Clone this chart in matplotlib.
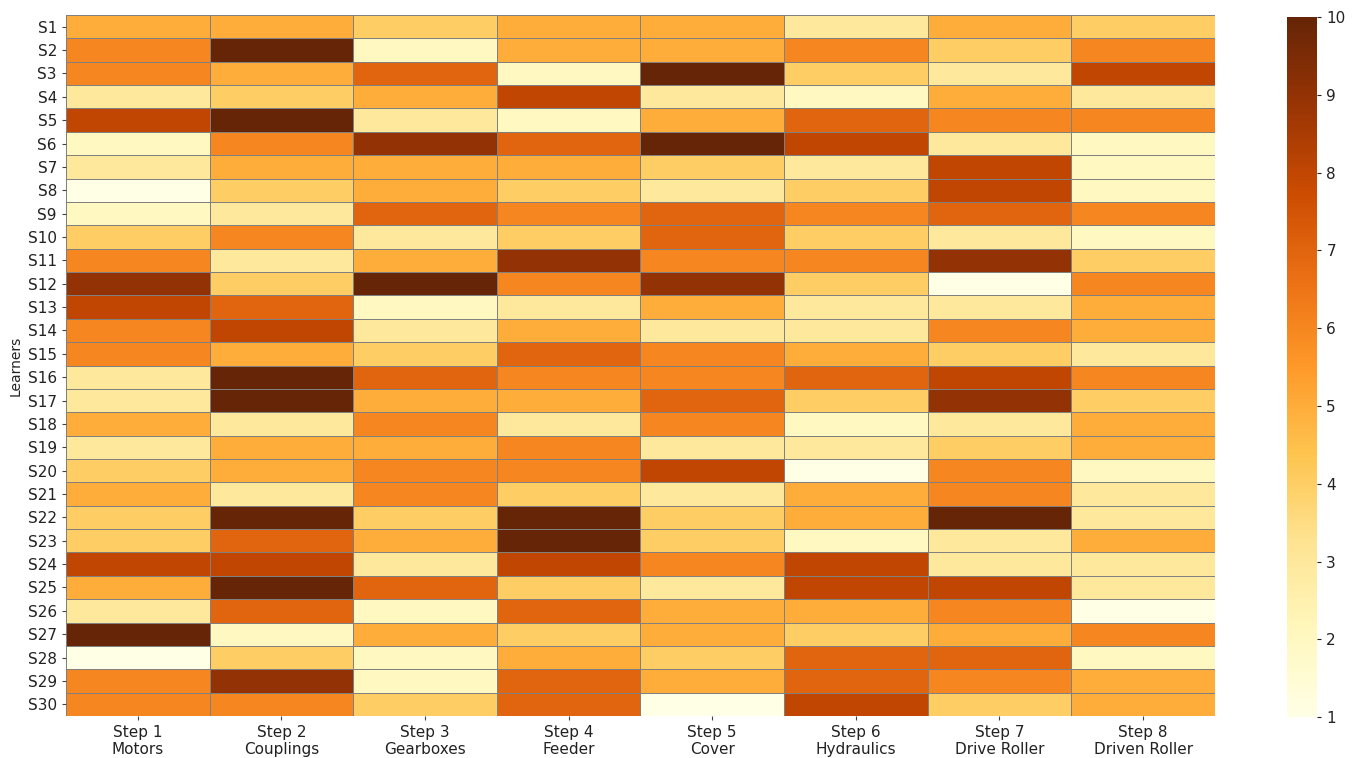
import matplotlib
matplotlib.use("Agg")
import matplotlib.pyplot as plt
import numpy as np

learners = [f"S{i}" for i in range(1, 31)]
steps = ["Step 1\nMotors", "Step 2\nCouplings", "Step 3\nGearboxes", "Step 4\nFeeder",
         "Step 5\nCover", "Step 6\nHydraulics", "Step 7\nDrive Roller", "Step 8\nDriven Roller"]

step1 = [5, 6, 6, 3, 8, 2, 3, 1, 2, 4, 6, 9, 8, 6, 6, 3, 3, 5, 3, 4, 5, 4, 4, 8, 5, 3, 10, 1, 6, 6]
step2 = [5, 10, 5, 4, 10, 6, 5, 4, 3, 6, 3, 4, 7, 8, 5, 10, 10, 3, 5, 5, 3, 10, 7, 8, 10, 7, 2, 4, 9, 6]
step3 = [4, 2, 7, 5, 3, 9, 5, 5, 7, 3, 5, 10, 2, 3, 4, 7, 5, 6, 5, 6, 6, 4, 5, 3, 7, 2, 5, 2, 2, 4]
step4 = [5, 5, 2, 8, 2, 7, 5, 4, 6, 4, 9, 6, 3, 5, 7, 6, 5, 3, 6, 6, 4, 10, 10, 8, 4, 7, 4, 5, 7, 7]
step5 = [5, 5, 10, 3, 5, 10, 4, 3, 7, 7, 6, 9, 5, 3, 6, 6, 7, 6, 3, 8, 3, 4, 4, 6, 3, 5, 5, 4, 5, 1]
step6 = [3, 6, 4, 2, 7, 8, 3, 4, 6, 4, 6, 4, 3, 3, 5, 7, 4, 2, 3, 1, 5, 5, 2, 8, 8, 5, 4, 7, 7, 8]
step7 = [5, 4, 3, 5, 6, 3, 8, 8, 7, 3, 9, 1, 3, 6, 4, 8, 9, 3, 4, 6, 6, 10, 3, 3, 8, 6, 5, 7, 6, 4]
step8 = [4, 6, 8, 3, 6, 2, 2, 2, 6, 2, 4, 6, 5, 5, 3, 6, 4, 5, 5, 2, 3, 3, 5, 3, 3, 1, 6, 2, 5, 5]

data = np.array([step1, step2, step3, step4, step5, step6, step7, step8]).T

fig = plt.figure(figsize=(13.58, 7.58), dpi=100)
ax = fig.add_axes([0.0486, 0.0554, 0.846, 0.9248])
cax = fig.add_axes([0.948, 0.054, 0.022, 0.9235])

mesh = ax.pcolormesh(data, cmap="YlOrBr", vmin=1, vmax=10,
                     edgecolors="gray", linewidth=0.6)
ax.set_xlim(0, data.shape[1])
ax.set_ylim(data.shape[0], 0)
ax.set_xticks(np.arange(data.shape[1]) + 0.5)
ax.set_xticklabels(steps, fontsize=11, color="#222222")
ax.set_yticks(np.arange(data.shape[0]) + 0.5)
ax.set_yticklabels(learners, fontsize=11, color="#222222")
ax.tick_params(axis="both", length=3, width=0.8, color="#444444")
for s in ax.spines.values():
    s.set_visible(False)
ax.set_ylabel("Learners", fontsize=10, color="#222222", labelpad=4)

cb = fig.colorbar(mesh, cax=cax)
cb.set_ticks(range(1, 11))
cb.ax.tick_params(labelsize=11, length=3, colors="#222222")
cb.outline.set_visible(False)

fig.savefig("out.png", dpi=100)
